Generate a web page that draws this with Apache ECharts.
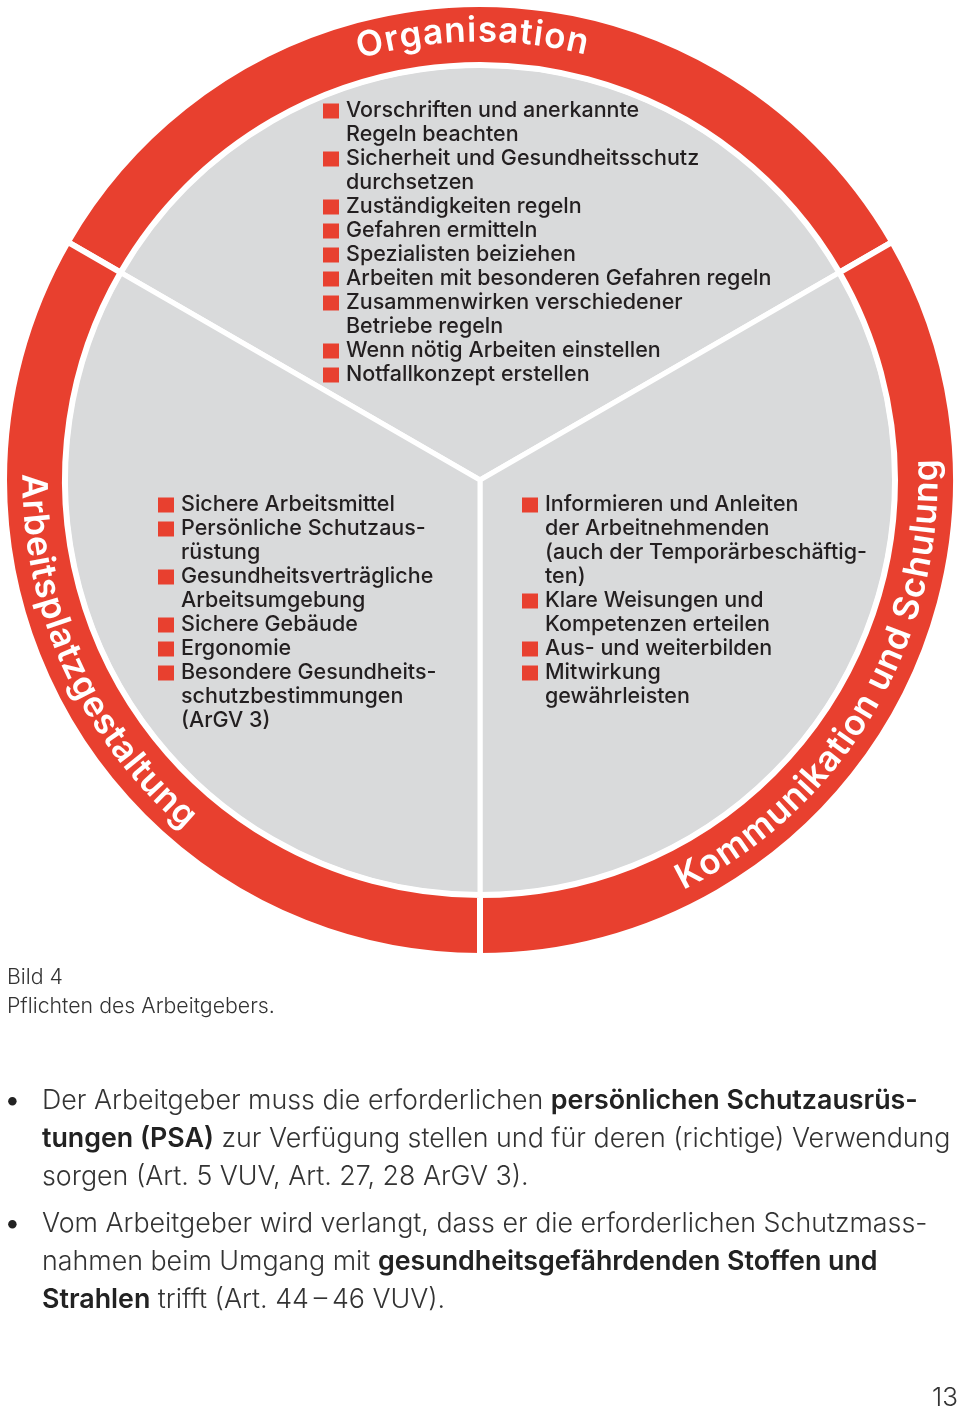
<!DOCTYPE html>
<html><head><meta charset="utf-8">
<script src="https://cdn.jsdelivr.net/npm/echarts@6/dist/echarts.min.js"></script>
<style>html,body{margin:0;padding:0;background:#fff}#c{width:960px;height:1410px}</style>
</head><body><div id="c"></div>
<script>
// ---------- data ----------
const sectorNames = ['Organisation', 'Kommunikation und Schulung', 'Arbeitsplatzgestaltung'];
const sectorValues = [1, 1, 1];
const orgItems = [
  ['Vorschriften und anerkannte', 'Regeln beachten'],
  ['Sicherheit und Gesundheitsschutz', 'durchsetzen'],
  ['Zuständigkeiten regeln'],
  ['Gefahren ermitteln'],
  ['Spezialisten beiziehen'],
  ['Arbeiten mit besonderen Gefahren regeln'],
  ['Zusammenwirken verschiedener', 'Betriebe regeln'],
  ['Wenn nötig Arbeiten einstellen'],
  ['Notfallkonzept erstellen']
];
const commItems = [
  ['Informieren und Anleiten', 'der Arbeitnehmenden', '(auch der Temporärbeschäftig-', 'ten)'],
  ['Klare Weisungen und', 'Kompetenzen erteilen'],
  ['Aus- und weiterbilden'],
  ['Mitwirkung', 'gewährleisten']
];
const workplaceItems = [
  ['Sichere Arbeitsmittel'],
  ['Persönliche Schutzaus-', 'rüstung'],
  ['Gesundheitsverträgliche', 'Arbeitsumgebung'],
  ['Sichere Gebäude'],
  ['Ergonomie'],
  ['Besondere Gesundheits-', 'schutzbestimmungen', '(ArGV 3)']
];
const captionLines = ['Bild 4', 'Pflichten des Arbeitgebers.'];
const bodyParagraphs = [
  ['Der Arbeitgeber muss die erforderlichen {b|persönlichen Schutzausrüs-}',
   '{b|tungen (PSA)} zur Verfügung stellen und für deren (richtige) Verwendung',
   'sorgen (Art. 5 VUV, Art. 27, 28 ArGV 3).'],
  ['Vom Arbeitgeber wird verlangt, dass er die erforderlichen Schutzmass-',
   'nahmen beim Umgang mit {b|gesundheitsgefährdenden Stoffen und}',
   '{b|Strahlen} trifft (Art. 44\u2009\u2013\u200946 VUV).']
];
const pageNumber = '13';

// ---------- layout / style ----------
const RED = '#e8402f', GREY = '#d9dadb', TXT = '#231f20', BODY = '#333333';
const CX = 480, CY = 480, R_OUT = 476;
const ringLabelLayout = [ // centre angle (deg ccw from 3 o'clock), radius, reading direction, letter spacing
  {angle: 91, r: 449, dir: -1, ls: 1.5},
  {angle: 329.5, r: 447, dir: 1, ls: 0.4},
  {angle: 204.5, r: 447, dir: 1, ls: 0.4}
];
const RING_FONT = '600 35px Inter, "Liberation Sans", sans-serif';
const LIST_FONT = '500 21.5px Inter, "Liberation Sans", sans-serif';
const BODY_FAMILY = 'Inter, "Liberation Sans", sans-serif';

const mctx = document.createElement('canvas').getContext('2d');
function measure(ch, font) { mctx.font = font; return mctx.measureText(ch).width; }

function renderRingLabel(params, api) {
  const i = api.value(2);
  const L = ringLabelLayout[i];
  const text = Array.from(sectorNames[i]);
  const r = api.value(0), mid = api.value(1);
  const w = text.map(ch => measure(ch, RING_FONT));
  const total = w.reduce((s, v) => s + v, 0) + L.ls * (text.length - 1);
  const deg = 180 / Math.PI;
  const start = mid - L.dir * (total / 2) / r * deg;
  let acc = 0;
  const children = [];
  text.forEach((ch, k) => {
    const a = start + L.dir * (acc + w[k] / 2) / r * deg;
    acc += w[k] + L.ls;
    const an = ((a % 360) + 360) % 360;
    const p = api.coord([r, an]);
    const rot = (L.dir < 0 ? a - 90 : a - 270) / deg;
    children.push({type: 'text', x: p[0], y: p[1], rotation: rot,
      style: {text: ch, font: RING_FONT, fill: '#fff', align: 'center', verticalAlign: 'middle'}});
  });
  return {type: 'group', children};
}

function listText(items) {
  const lines = [];
  items.forEach(item => item.forEach((ln, k) =>
    lines.push((k === 0 ? '{sq|}{gap|}' : '{ind|}') + '{t|' + ln + '}')));
  return lines.join('\n');
}
const listRich = {
  t: {font: LIST_FONT, fill: TXT, lineHeight: 24},
  sq: {width: 16, height: 15, backgroundColor: RED, lineHeight: 24},
  gap: {width: 7, lineHeight: 24},
  ind: {width: 23, lineHeight: 24}
};
function listEl(items, x, y) {
  return {type: 'text', x, y, z: 100, silent: true,
    style: {text: listText(items), rich: listRich, verticalAlign: 'top', align: 'left'}};
}
function bodyEl(lines, y) {
  return {type: 'text', x: 6, y, z: 100, silent: true,
    style: {
      text: lines.map((l, k) => (k === 0 ? '{bu|•}' : '{bi|}') +
        l.replace(/(^|\})([^{]+)/g, (m, a, b) => a + '{n|' + b + '}')).join('\n'),
      verticalAlign: 'top',
      rich: {
        n: {fontFamily: BODY_FAMILY, fontWeight: 300, fontSize: 26.8, fill: BODY, lineHeight: 38},
        b: {fontFamily: BODY_FAMILY, fontWeight: 600, fontSize: 26.8, fill: '#222', lineHeight: 38},
        bu: {fontFamily: BODY_FAMILY, fontWeight: 700, fontSize: 27, fill: '#222', width: 36, lineHeight: 38},
        bi: {width: 36, lineHeight: 38}
      }
    }};
}

const chart = echarts.init(document.getElementById('c'), null, {renderer: 'canvas'});
chart.setOption({
  animation: false,
  backgroundColor: '#fff',
  polar: {center: [CX, CY], radius: R_OUT},
  angleAxis: {type: 'value', min: 0, max: 360, startAngle: 0, clockwise: false, show: false},
  radiusAxis: {type: 'value', min: 0, max: R_OUT, show: false},
  series: [
    {type: 'pie', center: [CX, CY], radius: [0, 415], startAngle: 150, clockwise: true,
     silent: true, label: {show: false}, labelLine: {show: false},
     itemStyle: {color: GREY, borderColor: '#fff', borderWidth: 5},
     data: sectorNames.map((n, i) => ({name: n, value: sectorValues[i]}))},
    {type: 'pie', center: [CX, CY], radius: [415, 476], startAngle: 150, clockwise: true,
     silent: true, label: {show: false}, labelLine: {show: false},
     itemStyle: {color: RED, borderColor: '#fff', borderWidth: 6},
     data: sectorNames.map((n, i) => ({name: n, value: sectorValues[i]}))},
    {type: 'custom', coordinateSystem: 'polar', silent: true, z: 10,
     renderItem: renderRingLabel,
     data: sectorNames.map((n, i) => [ringLabelLayout[i].r, ringLabelLayout[i].angle, i])}
  ],
  graphic: [
    listEl(orgItems, 323, 99),
    listEl(workplaceItems, 158, 493),
    listEl(commItems, 522, 493),
    {type: 'text', x: 7, y: 963, z: 100, silent: true,
     style: {text: captionLines.join('\n'), fontFamily: BODY_FAMILY, fontWeight: 300, fontSize: 21.3, lineHeight: 29, fill: BODY, verticalAlign: 'top'}},
    bodyEl(bodyParagraphs[0], 1082),
    bodyEl(bodyParagraphs[1], 1205),
    {type: 'text', x: 958, y: 1398, z: 100, silent: true,
     style: {text: pageNumber, fontFamily: BODY_FAMILY, fontWeight: 300, fontSize: 26, fill: BODY, align: 'right', verticalAlign: 'middle'}}
  ]
});
</script></body></html>
